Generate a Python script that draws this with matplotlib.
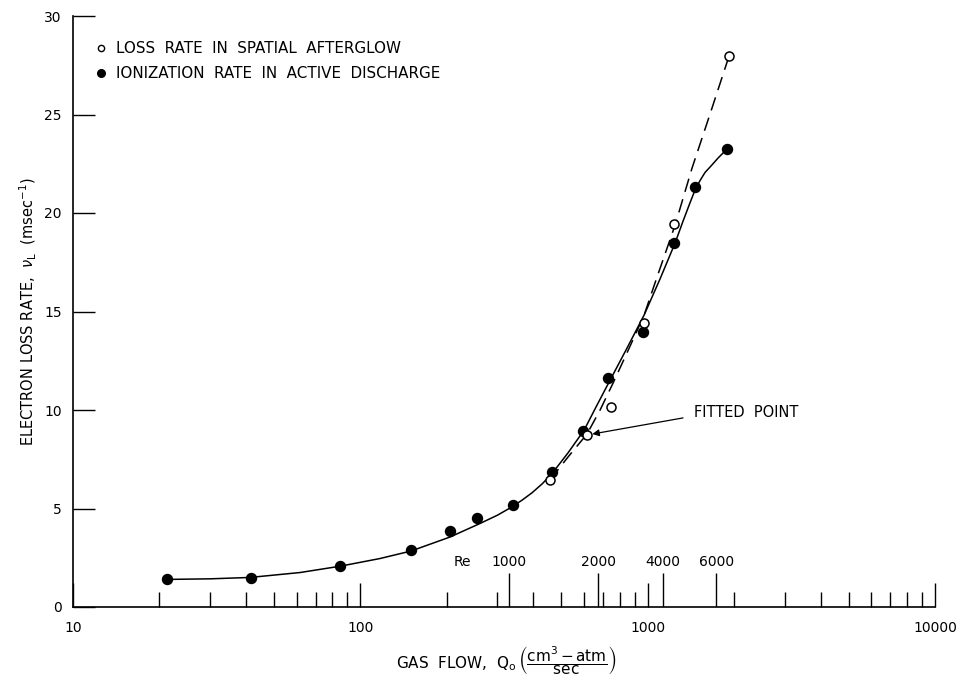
import numpy as np
import matplotlib
matplotlib.use("Agg")
import matplotlib.pyplot as plt
from matplotlib.lines import Line2D
from matplotlib.ticker import LogLocator, FixedLocator, FixedFormatter, NullFormatter

plt.rcParams['font.family'] = ['DejaVu Sans']
plt.rcParams['mathtext.fontset'] = 'dejavusans'

# ionization rate in active discharge (filled circles)
ion_flow = [21.3, 41.6, 85.0, 150, 205, 254, 339, 464, 597, 726, 966, 1238, 1466, 1885]
ion_rate = [1.41, 1.49, 2.08, 2.88, 3.86, 4.53, 5.18, 6.84, 8.93, 11.64, 13.94, 18.46, 21.34, 23.25]

# loss rate in spatial afterglow (open circles)
loss_flow = [457, 614, 744, 974, 1238, 1920]
loss_rate = [6.45, 8.73, 10.17, 14.40, 19.43, 27.97]

# smooth curve drawn through the discharge points
fit_flow = [21.2, 30.0, 41.3, 61.7, 85.0, 117, 150, 205, 261, 300, 337, 366, 396, 430, 465,
            528, 601, 661, 728, 841, 972, 1104, 1246, 1328, 1405, 1462, 1522, 1584, 1662,
            1758, 1889]
fit_rate = [1.40, 1.43, 1.50, 1.75, 2.07, 2.46, 2.84, 3.55, 4.24, 4.66, 5.08, 5.43, 5.80,
            6.26, 6.78, 7.82, 8.98, 10.15, 11.32, 13.05, 14.82, 16.65, 18.48, 19.59, 20.53,
            21.17, 21.65, 22.06, 22.39, 22.79, 23.25]

# dashed curve through the afterglow points
dash_flow = [457, 528, 615, 683, 758, 869, 972, 1078, 1246, 1427, 1649, 1920]
dash_rate = [6.45, 7.61, 8.78, 10.0, 11.37, 13.25, 14.82, 16.75, 19.39, 22.28, 25.03, 27.97]

# Reynolds number marks along the flow axis
re_flow = [329, 672, 1131, 1730]
re_labels = ['1000', '2000', '4000', '6000']

fitted_flow, fitted_rate = 614, 8.73

fig = plt.figure(figsize=(9.8, 6.83), dpi=100)
ax = fig.add_axes([73 / 980, 1 - 607 / 683, 862 / 980, 591 / 683])

ax.plot(fit_flow, fit_rate, '-', color='black', lw=1.1, clip_on=False)
ax.plot(dash_flow, dash_rate, color='black', lw=1.1, dashes=(9, 5), clip_on=False)
ax.plot(ion_flow, ion_rate, 'o', color='black', ms=7.2, clip_on=False, zorder=3)
ax.plot(loss_flow, loss_rate, 'o', mfc='white', mec='black', mew=1.1, ms=6.5,
        clip_on=False, zorder=4)

ax.set_xscale('log')
ax.set_xlim(10, 10000)
ax.set_ylim(0, 30)

ax.xaxis.set_major_locator(FixedLocator([10, 100, 1000, 10000]))
ax.xaxis.set_major_formatter(FixedFormatter(['10', '100', '1000', '10000']))
ax.xaxis.set_minor_locator(LogLocator(base=10, subs=np.arange(2, 10)))
ax.xaxis.set_minor_formatter(NullFormatter())
ax.set_yticks(np.arange(0, 31, 5))

ax.tick_params(axis='x', which='major', direction='in', length=17, width=1.0,
               pad=10, labelsize=10)
ax.tick_params(axis='x', which='minor', direction='in', length=10.8, width=1.0)
ax.tick_params(axis='y', direction='in', length=16, width=1.0, pad=8, labelsize=10)

for side in ('top', 'right'):
    ax.spines[side].set_visible(False)
for side in ('left', 'bottom'):
    ax.spines[side].set_linewidth(1.2)

# Reynolds number scale
ax.vlines(re_flow, 0, 1.73, color='black', lw=1.0)
for q, lab in zip(re_flow, re_labels):
    ax.text(q, 2.3, lab, ha='center', va='center', fontsize=10)
ax.text(226, 2.3, 'Re', ha='center', va='center', fontsize=10)

ax.annotate('FITTED  POINT', xy=(fitted_flow, fitted_rate), xytext=(1450, 9.85),
            ha='left', va='center', fontsize=10.5,
            arrowprops=dict(arrowstyle='-|>', color='black', lw=0.9,
                            mutation_scale=10, shrinkA=6, shrinkB=4,
                            relpos=(0, 0.3)))

handles = [
    Line2D([], [], ls='none', marker='o', mfc='white', mec='black', mew=1.0, ms=4.5),
    Line2D([], [], ls='none', marker='o', color='black', ms=5.5),
]
ax.legend(handles, ['LOSS  RATE  IN  SPATIAL  AFTERGLOW',
                    'IONIZATION  RATE  IN  ACTIVE  DISCHARGE'],
          loc='upper left', bbox_to_anchor=(0.027, 0.958), frameon=False,
          fontsize=10.9, handlelength=0.6, handletextpad=0.7, labelspacing=0.66,
          borderpad=0, borderaxespad=0)

ax.set_ylabel(r'ELECTRON LOSS RATE,  $\nu_\mathrm{L}$  (msec$^{-1}$)', fontsize=10.5)
ax.yaxis.set_label_coords(-0.040, 0.5)
ax.set_xlabel(r'GAS  FLOW,  Q$_\mathrm{o}\,\left(\dfrac{\mathrm{cm}^3\,\mathrm{-}\,\mathrm{atm}}'
              r'{\mathrm{sec}}\right)$', fontsize=11)
ax.xaxis.set_label_coords(0.503, -0.062)

fig.savefig('out.png', dpi=100)
